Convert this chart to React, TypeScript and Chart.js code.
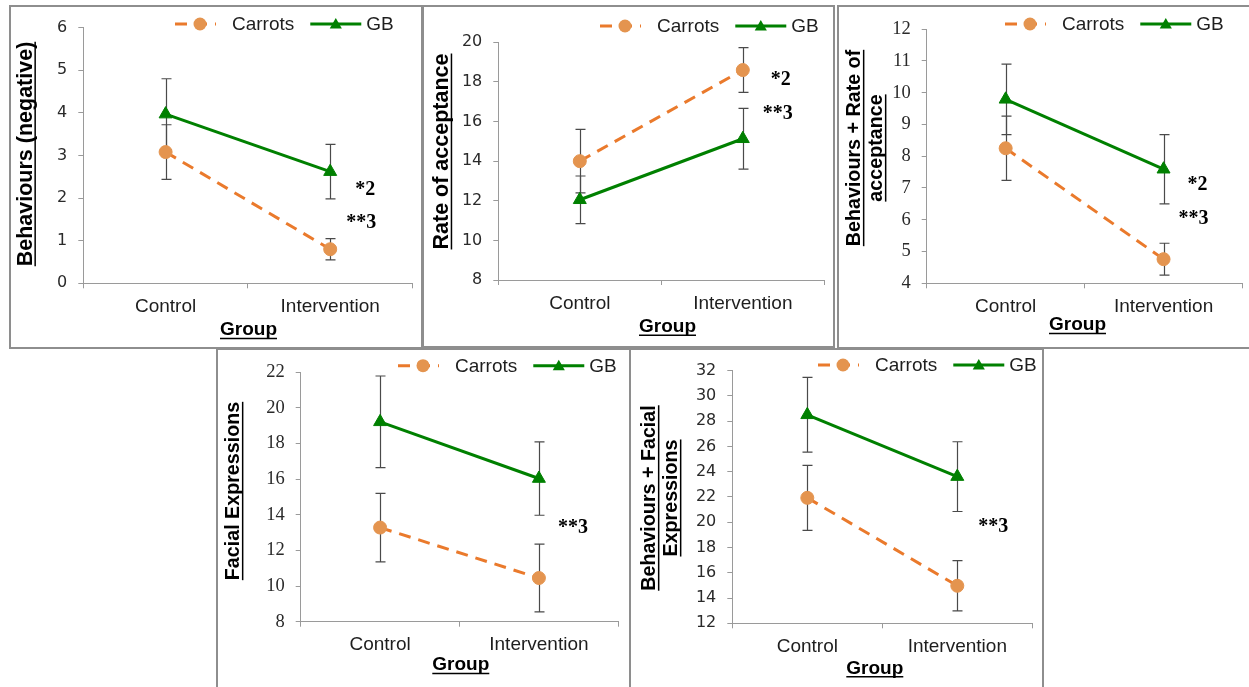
import React, { useEffect, useRef } from 'react';
import { Chart, registerables } from 'chart.js';

Chart.register(...registerables);

// ---------- DATA ----------
const categories = ['Control', 'Intervention'];
const seriesNames = ['Carrots', 'GB'];
const xAxisTitle = 'Group';

// Panel 1: Behaviours (negative)
const behavCarrots = [3.08, 0.8];
const behavCarrotsErr = [0.64, 0.25];
const behavGB = [3.97, 2.62];
const behavGBErr = [0.83, 0.64];
const behavAxis = [0, 6, 1]; // min, max, step
const behavNotes = ['*2', '**3'];
const behavNoteAt = [2.2, 1.42];

// Panel 2: Rate of acceptance
const rateCarrots = [14.0, 18.6];
const rateCarrotsErr = [1.6, 1.13];
const rateGB = [12.05, 15.13];
const rateGBErr = [1.2, 1.53];
const rateAxis = [8, 20, 2];
const rateNotes = ['*2', '**3'];
const rateNoteAt = [18.1, 16.38];

// Panel 3: Behaviours + Rate of acceptance
const behRateCarrots = [8.25, 4.76];
const behRateCarrotsErr = [1.01, 0.5];
const behRateGB = [9.79, 7.59];
const behRateGBErr = [1.11, 1.09];
const behRateAxis = [4, 12, 1];
const behRateNotes = ['*2', '**3'];
const behRateNoteAt = [7.1, 6.02];

// Panel 4: Facial Expressions
const facialCarrots = [13.28, 10.45];
const facialCarrotsErr = [1.92, 1.9];
const facialGB = [19.21, 16.03];
const facialGBErr = [2.57, 2.06];
const facialAxis = [8, 22, 2];
const facialNotes = ['**3'];
const facialNoteAt = [13.28];

// Panel 5: Behaviours + Facial Expressions
const behFacialCarrots = [21.93, 14.97];
const behFacialCarrotsErr = [2.57, 1.99];
const behFacialGB = [28.5, 23.61];
const behFacialGBErr = [2.96, 2.76];
const behFacialAxis = [12, 32, 2];
const behFacialNotes = ['**3'];
const behFacialNoteAt = [19.6];

// ---------- STYLE ----------
const ORANGE_LINE = '#EA7A2C';
const ORANGE_MARK = '#E4944F';
const GREEN = '#008000';
const AXIS = '#9a9a9a';
const ERR = '#4a4a4a';
const TEXT = '#1e1e1e';
const BORDER = 2;
const DASH = [12, 8];
const SANS = "'Liberation Sans', Arial, sans-serif";
const SERIF = "'Liberation Serif', 'Times New Roman', serif";
const TICK_SANS = "'DejaVu Sans', sans-serif";

type Spec = {
  id: string;
  values: number[][];
  errors: number[][];
  axis: number[];
  notes: string[];
  noteAt: number[];
  yTitle: string[];
  L: any;
};

const panels: Spec[] = [
  {
    id: 'p1',
    values: [behavCarrots, behavGB],
    errors: [behavCarrotsErr, behavGBErr],
    axis: behavAxis,
    notes: behavNotes,
    noteAt: behavNoteAt,
    yTitle: ['Behaviours (negative)'],
    L: {
      box: [9, 5, 414, 344], area: [83.3, 23.3, 421, 283.3], legend: [175, 24],
      yTitlePos: [25.7, 154], yTitleSize: 21.5, xTitlePos: [248.5, 330], noteDx: [35, 31],
      tickFamily: TICK_SANS, tickSize: 16,
    },
  },
  {
    id: 'p2',
    values: [rateCarrots, rateGB],
    errors: [rateCarrotsErr, rateGBErr],
    axis: rateAxis,
    notes: rateNotes,
    noteAt: rateNoteAt,
    yTitle: ['Rate of acceptance'],
    L: {
      box: [422, 5, 413, 343], area: [498.3, 42.3, 824.3, 280], legend: [600, 26],
      yTitlePos: [442, 151.5], yTitleSize: 21.5, xTitlePos: [667.5, 326.7], noteDx: [38, 35],
      tickFamily: TICK_SANS, tickSize: 16,
    },
  },
  {
    id: 'p3',
    values: [behRateCarrots, behRateGB],
    errors: [behRateCarrotsErr, behRateGBErr],
    axis: behRateAxis,
    notes: behRateNotes,
    noteAt: behRateNoteAt,
    yTitle: ['Behaviours + Rate of', 'acceptance'],
    L: {
      box: [837, 5, 416, 344], area: [926.7, 24, 1251, 283.3], legend: [1005, 24],
      yTitlePos: [855, 148], yTitleSize: 19.7, xTitlePos: [1077.5, 325], noteDx: [34, 30],
      tickFamily: SERIF, tickSize: 18.5,
    },
  },
  {
    id: 'p4',
    values: [facialCarrots, facialGB],
    errors: [facialCarrotsErr, facialGBErr],
    axis: facialAxis,
    notes: facialNotes,
    noteAt: facialNoteAt,
    yTitle: ['Facial Expressions'],
    L: {
      box: [216, 348, 415, 345], area: [300.7, 365, 618.3, 621.7], legend: [398, 365.7],
      yTitlePos: [234, 491], yTitleSize: 19.7, xTitlePos: [460.8, 665], noteDx: [34],
      tickFamily: SERIF, tickSize: 18.5,
    },
  },
  {
    id: 'p5',
    values: [behFacialCarrots, behFacialGB],
    errors: [behFacialCarrotsErr, behFacialGBErr],
    axis: behFacialAxis,
    notes: behFacialNotes,
    noteAt: behFacialNoteAt,
    yTitle: ['Behaviours + Facial', 'Expressions'],
    L: {
      box: [629, 348, 415, 345], area: [732.3, 365, 1032.3, 623.3], legend: [818, 365],
      yTitlePos: [650, 498], yTitleSize: 19.7, xTitlePos: [874.8, 668.3], noteDx: [36],
      tickFamily: TICK_SANS, tickSize: 16,
    },
  },
];

function drawTriangle(ctx: CanvasRenderingContext2D, x: number, y: number, r: number) {
  ctx.beginPath();
  for (let k = 0; k < 3; k++) {
    const a = -Math.PI / 2 + (k * 2 * Math.PI) / 3;
    const px = x + r * Math.cos(a);
    const py = y + r * Math.sin(a);
    if (k === 0) ctx.moveTo(px, py);
    else ctx.lineTo(px, py);
  }
  ctx.closePath();
  ctx.fill();
}

function makeDecor(p: Spec, ox: number, oy: number) {
  const L = p.L;
  return {
    id: 'decor_' + p.id,
    beforeDatasetsDraw(chart: any) {
      const ctx: CanvasRenderingContext2D = chart.ctx;
      const xs = chart.scales.x;
      const ys = chart.scales.y;
      ctx.save();
      ctx.strokeStyle = ERR;
      ctx.lineWidth = 1.2;
      p.values.forEach((vals, si) => {
        vals.forEach((v, j) => {
          const e = p.errors[si][j];
          const x = Math.round(xs.getPixelForValue(j)) + 0.5;
          const yT = ys.getPixelForValue(v + e);
          const yB = ys.getPixelForValue(v - e);
          ctx.beginPath();
          ctx.moveTo(x, yT);
          ctx.lineTo(x, yB);
          ctx.moveTo(x - 5, yT);
          ctx.lineTo(x + 5, yT);
          ctx.moveTo(x - 5, yB);
          ctx.lineTo(x + 5, yB);
          ctx.stroke();
        });
      });
      ctx.restore();
    },
    afterDraw(chart: any) {
      const ctx: CanvasRenderingContext2D = chart.ctx;
      const xs = chart.scales.x;
      const ys = chart.scales.y;
      ctx.save();

      // legend
      const x0 = L.legend[0] - ox;
      const y0 = L.legend[1] - oy;
      ctx.font = `19px ${SANS}`;
      ctx.textBaseline = 'middle';
      ctx.textAlign = 'left';
      ctx.lineWidth = 3;
      ctx.strokeStyle = ORANGE_LINE;
      ctx.setLineDash(DASH);
      ctx.beginPath();
      ctx.moveTo(x0, y0);
      ctx.lineTo(x0 + 41, y0);
      ctx.stroke();
      ctx.setLineDash([]);
      ctx.fillStyle = ORANGE_MARK;
      ctx.beginPath();
      ctx.arc(x0 + 25, y0, 6.5, 0, Math.PI * 2);
      ctx.fill();
      ctx.fillStyle = TEXT;
      ctx.fillText(seriesNames[0], x0 + 57, y0 + 1);
      const tw = ctx.measureText(seriesNames[0]).width;
      const gx = x0 + 57 + tw + 16;
      ctx.strokeStyle = GREEN;
      ctx.beginPath();
      ctx.moveTo(gx, y0);
      ctx.lineTo(gx + 51, y0);
      ctx.stroke();
      ctx.fillStyle = GREEN;
      drawTriangle(ctx, gx + 25.5, y0 + 1, 7);
      ctx.fillStyle = TEXT;
      ctx.fillText(seriesNames[1], gx + 56, y0 + 1);

      // significance notes
      ctx.font = `bold 20px ${SERIF}`;
      ctx.textAlign = 'center';
      ctx.fillStyle = '#000';
      p.notes.forEach((t, k) => {
        const x = xs.getPixelForValue(1) + L.noteDx[k];
        const y = ys.getPixelForValue(p.noteAt[k]);
        ctx.fillText(t, x, y);
      });

      // y title (rotated, underlined)
      ctx.save();
      ctx.translate(L.yTitlePos[0] - ox, L.yTitlePos[1] - oy);
      ctx.rotate(-Math.PI / 2);
      ctx.font = `bold ${L.yTitleSize}px ${SANS}`;
      ctx.textAlign = 'center';
      ctx.textBaseline = 'middle';
      ctx.fillStyle = '#000';
      ctx.strokeStyle = '#000';
      ctx.lineWidth = 1.5;
      p.yTitle.forEach((t, i) => {
        const yy = i * 22;
        ctx.fillText(t, 0, yy);
        const w = ctx.measureText(t).width;
        const u = yy + L.yTitleSize * 0.44;
        ctx.beginPath();
        ctx.moveTo(-w / 2, u);
        ctx.lineTo(w / 2, u);
        ctx.stroke();
      });
      ctx.restore();

      // x title
      ctx.font = `bold 19px ${SANS}`;
      ctx.textAlign = 'center';
      ctx.textBaseline = 'middle';
      ctx.fillStyle = '#000';
      const cx = L.xTitlePos[0] - ox;
      const cy = L.xTitlePos[1] - oy;
      ctx.fillText(xAxisTitle, cx, cy);
      const xw = ctx.measureText(xAxisTitle).width;
      ctx.strokeStyle = '#000';
      ctx.lineWidth = 1.5;
      ctx.beginPath();
      ctx.moveTo(cx - xw / 2, cy + 8.5);
      ctx.lineTo(cx + xw / 2, cy + 8.5);
      ctx.stroke();

      ctx.restore();
    },
  };
}

function Panel({ p }: { p: Spec }) {
  const ref = useRef<HTMLCanvasElement>(null);
  const [bx, by, bw, bh] = p.L.box;
  const cw = bw - 2 * BORDER;
  const ch = bh - 2 * BORDER;
  useEffect(() => {
    const canvas = ref.current!;
    const ox = bx + BORDER;
    const oy = by + BORDER;
    const [aL, aT, aR, aB] = p.L.area;
    const padTop = aT - oy;
    const padRight = Math.max(0, ox + cw - aR);
    const yW = aL - ox;
    const xH = oy + ch - aB;
    const [mn, mx, st] = p.axis;
    const chart = new Chart(canvas, {
      type: 'line',
      data: {
        labels: categories,
        datasets: [
          {
            label: seriesNames[0],
            data: p.values[0],
            borderColor: ORANGE_LINE,
            borderWidth: 3,
            borderDash: DASH,
            backgroundColor: ORANGE_MARK,
            pointStyle: 'circle',
            pointRadius: 6.5,
            pointHoverRadius: 6.5,
            pointBackgroundColor: ORANGE_MARK,
            pointBorderColor: ORANGE_MARK,
            pointBorderWidth: 1,
            tension: 0,
          },
          {
            label: seriesNames[1],
            data: p.values[1],
            borderColor: GREEN,
            borderWidth: 3,
            backgroundColor: GREEN,
            pointStyle: 'triangle',
            pointRadius: 7.5,
            pointHoverRadius: 7.5,
            pointBackgroundColor: GREEN,
            pointBorderColor: GREEN,
            pointBorderWidth: 1,
            tension: 0,
          },
        ],
      },
      options: {
        animation: false,
        responsive: false,
        maintainAspectRatio: false,
        events: [],
        layout: { padding: { top: padTop, right: padRight, bottom: 0, left: 0 } },
        plugins: { legend: { display: false }, tooltip: { enabled: false } },
        scales: {
          x: {
            type: 'category',
            offset: true,
            grid: { offset: true, drawOnChartArea: false, drawTicks: true, tickLength: 5, color: AXIS },
            border: { display: true, color: AXIS, width: 1 },
            ticks: {
              font: { family: SANS, size: 19 },
              color: TEXT,
              padding: 7,
              maxRotation: 0,
              minRotation: 0,
              autoSkip: false,
            },
            afterFit: (s: any) => {
              s.height = xH;
            },
          },
          y: {
            type: 'linear',
            min: mn,
            max: mx,
            ticks: {
              stepSize: st,
              font: { family: p.L.tickFamily, size: p.L.tickSize },
              color: '#2a2a2a',
              padding: 11,
            },
            grid: { drawOnChartArea: false, drawTicks: true, tickLength: 5, color: AXIS },
            border: { display: true, color: AXIS, width: 1 },
            afterFit: (s: any) => {
              s.width = yW;
            },
          },
        },
      } as any,
      plugins: [makeDecor(p, ox, oy)],
    });
    return () => chart.destroy();
  }, []);
  return (
    <div
      style={{
        position: 'absolute',
        left: bx,
        top: by,
        width: bw,
        height: bh,
        border: `${BORDER}px solid #8e8e8e`,
        boxSizing: 'border-box',
        background: '#fff',
      }}
    >
      <canvas ref={ref} width={cw} height={ch} style={{ display: 'block', width: cw, height: ch }} />
    </div>
  );
}

export default function App() {
  return (
    <div
      style={{
        position: 'absolute',
        left: 0,
        top: 0,
        width: 1249,
        height: 687,
        overflow: 'hidden',
        background: '#fff',
      }}
    >
      {panels.map((p) => (
        <Panel key={p.id} p={p} />
      ))}
    </div>
  );
}
